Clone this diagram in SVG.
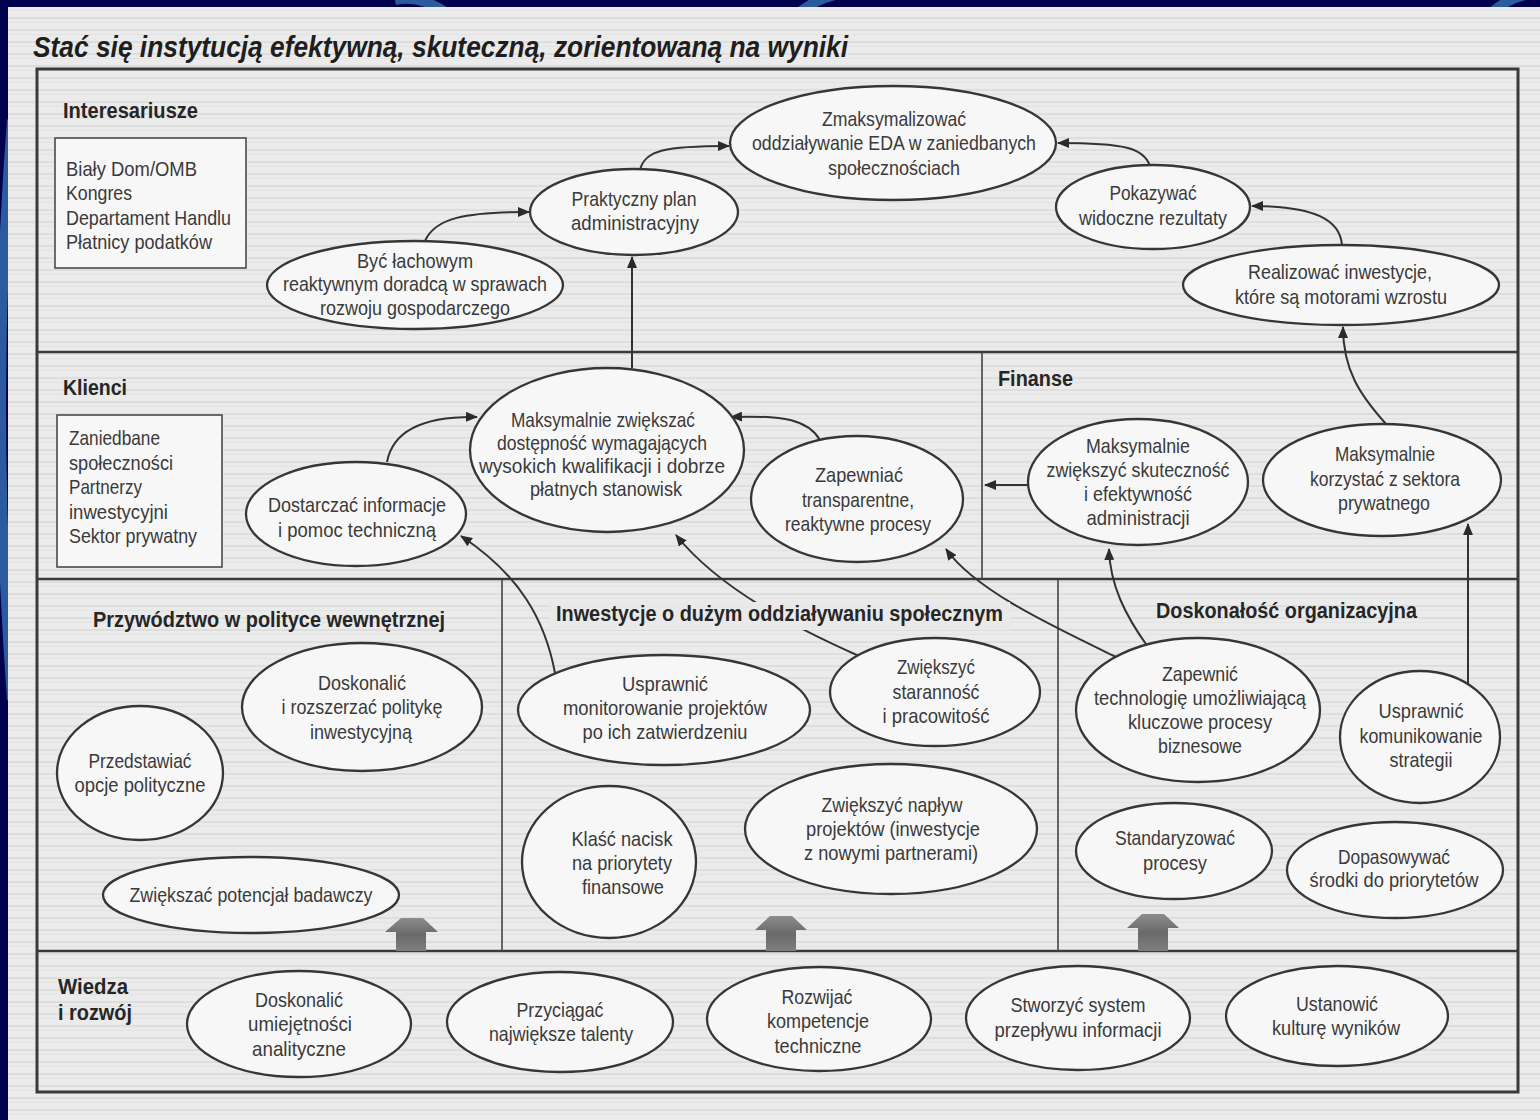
<svg xmlns="http://www.w3.org/2000/svg" width="1540" height="1120" viewBox="0 0 1540 1120">
  <defs>
    <style>
      .t { font-family: "Liberation Sans", Arial, sans-serif; font-size: 21px; fill: #3a3a3a; text-anchor: middle; }
      .tl { font-family: "Liberation Sans", Arial, sans-serif; font-size: 21px; fill: #3a3a3a; }
      .h { font-family: "Liberation Sans", Arial, sans-serif; font-size: 22px; font-weight: bold; fill: #262626; }
      .title { font-family: "Liberation Sans", Arial, sans-serif; font-size: 30px; font-weight: bold; font-style: italic; fill: #1e1e1e; }
      .node ellipse { fill: #f7f7f7; stroke: #363636; stroke-width: 2.3; }
      .box { fill: #f7f7f7; stroke: #4a4a4a; stroke-width: 1.6; }
      .frame { fill: none; stroke: #3a3a3a; stroke-width: 3; }
      .hdiv { stroke: #3a3a3a; stroke-width: 2.6; }
      .vdiv { stroke: #444; stroke-width: 1.6; }
      .knock { fill: #e9e9e9; }
      .conn path { fill: none; stroke: #333; stroke-width: 2; marker-end: url(#ah); }
      .bigarrow { fill: url(#ga); }
    </style>
    <marker id="ah" viewBox="0 0 12 10" refX="11" refY="5" markerWidth="12" markerHeight="10" markerUnits="userSpaceOnUse" orient="auto">
      <path d="M0,0 L12,5 L0,10 Z" fill="#2a2a2a"/>
    </marker>
    <pattern id="scan" width="20" height="12" patternUnits="userSpaceOnUse">
      <rect width="20" height="12" fill="#ebebeb"/>
      <rect y="5" width="20" height="2" fill="#dedede"/>
      <rect y="10" width="20" height="1" fill="#e2e2e2"/>
    </pattern>
    <linearGradient id="ga" x1="0" y1="0" x2="0" y2="1">
      <stop offset="0" stop-color="#8c8c8c"/>
      <stop offset="0.5" stop-color="#6a6a6a"/>
      <stop offset="1" stop-color="#7e7e7e"/>
    </linearGradient>
  </defs>

  <!-- slide background -->
  <rect width="1540" height="1120" fill="#00004c"/>
  <g fill="none" stroke="#2b5b9e" stroke-width="10">
    <path d="M 395 0 Q 420 -5 445 12"/>
    <path d="M 800 12 Q 815 0 835 -5"/>
    <path d="M 1490 14 Q 1505 0 1525 -5"/>
    <path d="M 12 120 Q -10 400 12 700"/>
  </g>

  <!-- scanned page -->
  <rect x="8" y="7" width="1532" height="1113" fill="url(#scan)"/>

  <text class="title" x="33" y="57" textLength="815" lengthAdjust="spacingAndGlyphs">Stać się instytucją efektywną, skuteczną, zorientowaną na wyniki</text>

  <!-- frame and section dividers -->
  <rect class="frame" x="37" y="69" width="1481" height="1023"/>
  <line class="hdiv" x1="37" y1="352" x2="1518" y2="352"/>
  <line class="hdiv" x1="37" y1="579" x2="1518" y2="579"/>
  <line class="hdiv" x1="37" y1="951" x2="1518" y2="951"/>
  <line class="vdiv" x1="982" y1="352" x2="982" y2="579"/>
  <line class="vdiv" x1="502" y1="579" x2="502" y2="951"/>
  <line class="vdiv" x1="1058" y1="579" x2="1058" y2="951"/>

  <!-- connectors -->
  <g id="connectors" class="conn">
    <path d="M 425 241 C 435 218, 465 212, 529 212"/>
    <path d="M 640 170 C 645 150, 665 146, 729 146"/>
    <path d="M 1150 166 C 1144 148, 1125 143, 1058 143"/>
    <path d="M 1342 245 C 1340 220, 1315 206, 1252 206"/>
    <path d="M 632 368 L 632 257"/>
    <path d="M 387 462 C 393 430, 425 416, 477 417"/>
    <path d="M 820 440 C 808 420, 785 415, 731 417"/>
    <path d="M 1028 485 L 985 485"/>
    <path d="M 1386 424 C 1360 395, 1343 370, 1343 327"/>
    <path d="M 555 673 C 545 620, 520 575, 461 536"/>
    <path d="M 859 656 C 800 630, 720 590, 676 535"/>
    <path d="M 1116 657 C 1050 625, 975 590, 946 549"/>
    <path d="M 1148 647 C 1125 615, 1110 585, 1109 549"/>
    <path d="M 1468 686 L 1468 524"/>
  </g>

  <!-- wide arrows from the learning layer -->
  <g id="base-arrows" class="bigarrow">
    <polygon points="401,918 423,918 438,932 426,932 426,951 396,951 396,932 385,932"/>
    <polygon points="770,916 792,916 807,930 796,930 796,951 766,951 766,930 755,930"/>
    <polygon points="1142,914 1164,914 1179,928 1168,928 1168,951 1138,951 1138,928 1127,928"/>
  </g>

  <!-- section headings -->
  <text class="h" x="63" y="118" textLength="135" lengthAdjust="spacingAndGlyphs">Interesariusze</text>
  <text class="h" x="63" y="395" textLength="64" lengthAdjust="spacingAndGlyphs">Klienci</text>
  <text class="h" x="998" y="386" textLength="75" lengthAdjust="spacingAndGlyphs">Finanse</text>
  <text class="h" x="93" y="627" textLength="352" lengthAdjust="spacingAndGlyphs">Przywództwo w polityce wewnętrznej</text>
  <rect class="knock" x="550" y="602" width="460" height="28"/>
  <text class="h" x="556" y="621" textLength="447" lengthAdjust="spacingAndGlyphs">Inwestycje o dużym oddziaływaniu społecznym</text>
  <text class="h" x="1156" y="618" textLength="261" lengthAdjust="spacingAndGlyphs">Doskonałość organizacyjna</text>
  <text class="h" x="58" y="994" textLength="70" lengthAdjust="spacingAndGlyphs">Wiedza</text>
  <text class="h" x="58" y="1020" textLength="74" lengthAdjust="spacingAndGlyphs">i rozwój</text>

  <!-- stakeholder list -->
  <g id="stakeholders">
    <rect class="box" x="55" y="138" width="191" height="130"/>
    <text class="tl" x="66" y="176" textLength="131" lengthAdjust="spacingAndGlyphs">Biały Dom/OMB</text>
    <text class="tl" x="66" y="200" textLength="66" lengthAdjust="spacingAndGlyphs">Kongres</text>
    <text class="tl" x="66" y="225" textLength="165" lengthAdjust="spacingAndGlyphs">Departament Handlu</text>
    <text class="tl" x="66" y="249" textLength="146" lengthAdjust="spacingAndGlyphs">Płatnicy podatków</text>
  </g>

  <!-- client list -->
  <g id="clients">
    <rect class="box" x="57" y="415" width="165" height="152"/>
    <text class="tl" x="69" y="445" textLength="91" lengthAdjust="spacingAndGlyphs">Zaniedbane</text>
    <text class="tl" x="69" y="470" textLength="104" lengthAdjust="spacingAndGlyphs">społeczności</text>
    <text class="tl" x="69" y="494" textLength="73" lengthAdjust="spacingAndGlyphs">Partnerzy</text>
    <text class="tl" x="69" y="519" textLength="99" lengthAdjust="spacingAndGlyphs">inwestycyjni</text>
    <text class="tl" x="69" y="543" textLength="128" lengthAdjust="spacingAndGlyphs">Sektor prywatny</text>
  </g>

  <!-- stakeholder layer -->
  <g id="n-maximize-impact" class="node">
    <ellipse cx="893" cy="143" rx="163" ry="57"/>
    <text class="t" x="894" y="126" textLength="144" lengthAdjust="spacingAndGlyphs">Zmaksymalizować</text>
    <text class="t" x="894" y="150" textLength="284" lengthAdjust="spacingAndGlyphs">oddziaływanie EDA w zaniedbanych</text>
    <text class="t" x="894" y="175" textLength="132" lengthAdjust="spacingAndGlyphs">społecznościach</text>
  </g>
  <g id="n-admin-plan" class="node">
    <ellipse cx="634" cy="212" rx="104" ry="43"/>
    <text class="t" x="634" y="206" textLength="125" lengthAdjust="spacingAndGlyphs">Praktyczny plan</text>
    <text class="t" x="635" y="230" textLength="128" lengthAdjust="spacingAndGlyphs">administracyjny</text>
  </g>
  <g id="n-advisor" class="node">
    <ellipse cx="415" cy="285" rx="148" ry="44"/>
    <text class="t" x="415" y="268" textLength="116" lengthAdjust="spacingAndGlyphs">Być łachowym</text>
    <text class="t" x="415" y="291" textLength="264" lengthAdjust="spacingAndGlyphs">reaktywnym doradcą w sprawach</text>
    <text class="t" x="415" y="315" textLength="190" lengthAdjust="spacingAndGlyphs">rozwoju gospodarczego</text>
  </g>
  <g id="n-show-results" class="node">
    <ellipse cx="1153" cy="207" rx="97" ry="42"/>
    <text class="t" x="1153" y="200" textLength="87" lengthAdjust="spacingAndGlyphs">Pokazywać</text>
    <text class="t" x="1153" y="225" textLength="148" lengthAdjust="spacingAndGlyphs">widoczne rezultaty</text>
  </g>
  <g id="n-growth-investments" class="node">
    <ellipse cx="1341" cy="285" rx="158" ry="40"/>
    <text class="t" x="1340" y="279" textLength="184" lengthAdjust="spacingAndGlyphs">Realizować inwestycje,</text>
    <text class="t" x="1341" y="304" textLength="212" lengthAdjust="spacingAndGlyphs">które są motorami wzrostu</text>
  </g>

  <!-- client layer -->
  <g id="n-tech-assist" class="node">
    <ellipse cx="356" cy="514" rx="110" ry="52"/>
    <text class="t" x="357" y="512" textLength="178" lengthAdjust="spacingAndGlyphs">Dostarczać informacje</text>
    <text class="t" x="357" y="537" textLength="158" lengthAdjust="spacingAndGlyphs">i pomoc techniczną</text>
  </g>
  <g id="n-jobs" class="node">
    <ellipse cx="607" cy="450" rx="137" ry="82"/>
    <text class="t" x="603" y="427" textLength="184" lengthAdjust="spacingAndGlyphs">Maksymalnie zwiększać</text>
    <text class="t" x="602" y="450" textLength="210" lengthAdjust="spacingAndGlyphs">dostępność wymagających</text>
    <text class="t" x="602" y="473" textLength="246" lengthAdjust="spacingAndGlyphs">wysokich kwalifikacji i dobrze</text>
    <text class="t" x="606" y="496" textLength="152" lengthAdjust="spacingAndGlyphs">płatnych stanowisk</text>
  </g>
  <g id="n-processes" class="node">
    <ellipse cx="857" cy="499" rx="106" ry="63"/>
    <text class="t" x="859" y="482" textLength="88" lengthAdjust="spacingAndGlyphs">Zapewniać</text>
    <text class="t" x="858" y="507" textLength="112" lengthAdjust="spacingAndGlyphs">transparentne,</text>
    <text class="t" x="858" y="531" textLength="146" lengthAdjust="spacingAndGlyphs">reaktywne procesy</text>
  </g>

  <!-- finance layer -->
  <g id="n-efficiency" class="node">
    <ellipse cx="1138" cy="482" rx="110" ry="63"/>
    <text class="t" x="1138" y="453" textLength="104" lengthAdjust="spacingAndGlyphs">Maksymalnie</text>
    <text class="t" x="1138" y="477" textLength="183" lengthAdjust="spacingAndGlyphs">zwiększyć skuteczność</text>
    <text class="t" x="1138" y="501" textLength="108" lengthAdjust="spacingAndGlyphs">i efektywność</text>
    <text class="t" x="1138" y="525" textLength="103" lengthAdjust="spacingAndGlyphs">administracji</text>
  </g>
  <g id="n-private-sector" class="node">
    <ellipse cx="1382" cy="480" rx="119" ry="56"/>
    <text class="t" x="1385" y="461" textLength="100" lengthAdjust="spacingAndGlyphs">Maksymalnie</text>
    <text class="t" x="1385" y="486" textLength="150" lengthAdjust="spacingAndGlyphs">korzystać z sektora</text>
    <text class="t" x="1384" y="510" textLength="92" lengthAdjust="spacingAndGlyphs">prywatnego</text>
  </g>

  <!-- internal processes: policy leadership -->
  <g id="n-refine-policy" class="node">
    <ellipse cx="362" cy="707" rx="120" ry="64"/>
    <text class="t" x="362" y="690" textLength="88" lengthAdjust="spacingAndGlyphs">Doskonalić</text>
    <text class="t" x="362" y="714" textLength="161" lengthAdjust="spacingAndGlyphs">i rozszerzać politykę</text>
    <text class="t" x="361" y="739" textLength="102" lengthAdjust="spacingAndGlyphs">inwestycyjną</text>
  </g>
  <g id="n-policy-options" class="node">
    <ellipse cx="140" cy="773" rx="83" ry="67"/>
    <text class="t" x="140" y="768" textLength="103" lengthAdjust="spacingAndGlyphs">Przedstawiać</text>
    <text class="t" x="140" y="792" textLength="131" lengthAdjust="spacingAndGlyphs">opcje polityczne</text>
  </g>
  <g id="n-research" class="node">
    <ellipse cx="251" cy="895" rx="148" ry="38"/>
    <text class="t" x="251" y="902" textLength="243" lengthAdjust="spacingAndGlyphs">Zwiększać potencjał badawczy</text>
  </g>

  <!-- internal processes: high-impact investments -->
  <g id="n-monitoring" class="node">
    <ellipse cx="664" cy="710" rx="146" ry="55"/>
    <text class="t" x="665" y="691" textLength="86" lengthAdjust="spacingAndGlyphs">Usprawnić</text>
    <text class="t" x="665" y="715" textLength="204" lengthAdjust="spacingAndGlyphs">monitorowanie projektów</text>
    <text class="t" x="665" y="739" textLength="165" lengthAdjust="spacingAndGlyphs">po ich zatwierdzeniu</text>
  </g>
  <g id="n-diligence" class="node">
    <ellipse cx="935" cy="692" rx="105" ry="54"/>
    <text class="t" x="936" y="674" textLength="78" lengthAdjust="spacingAndGlyphs">Zwiększyć</text>
    <text class="t" x="936" y="699" textLength="87" lengthAdjust="spacingAndGlyphs">staranność</text>
    <text class="t" x="936" y="723" textLength="107" lengthAdjust="spacingAndGlyphs">i pracowitość</text>
  </g>
  <g id="n-fin-priorities" class="node">
    <ellipse cx="609" cy="862" rx="87" ry="76"/>
    <text class="t" x="622" y="846" textLength="101" lengthAdjust="spacingAndGlyphs">Klaść nacisk</text>
    <text class="t" x="622" y="870" textLength="100" lengthAdjust="spacingAndGlyphs">na priorytety</text>
    <text class="t" x="623" y="894" textLength="82" lengthAdjust="spacingAndGlyphs">finansowe</text>
  </g>
  <g id="n-project-flow" class="node">
    <ellipse cx="891" cy="829" rx="146" ry="65"/>
    <text class="t" x="892" y="812" textLength="141" lengthAdjust="spacingAndGlyphs">Zwiększyć napływ</text>
    <text class="t" x="893" y="836" textLength="174" lengthAdjust="spacingAndGlyphs">projektów (inwestycje</text>
    <text class="t" x="891" y="860" textLength="174" lengthAdjust="spacingAndGlyphs">z nowymi partnerami)</text>
  </g>

  <!-- internal processes: organisational excellence -->
  <g id="n-technology" class="node">
    <ellipse cx="1198" cy="710" rx="122" ry="72"/>
    <text class="t" x="1200" y="681" textLength="76" lengthAdjust="spacingAndGlyphs">Zapewnić</text>
    <text class="t" x="1200" y="705" textLength="212" lengthAdjust="spacingAndGlyphs">technologię umożliwiającą</text>
    <text class="t" x="1200" y="729" textLength="144" lengthAdjust="spacingAndGlyphs">kluczowe procesy</text>
    <text class="t" x="1200" y="753" textLength="84" lengthAdjust="spacingAndGlyphs">biznesowe</text>
  </g>
  <g id="n-communication" class="node">
    <ellipse cx="1420" cy="737" rx="80" ry="66"/>
    <text class="t" x="1421" y="718" textLength="85" lengthAdjust="spacingAndGlyphs">Usprawnić</text>
    <text class="t" x="1421" y="743" textLength="123" lengthAdjust="spacingAndGlyphs">komunikowanie</text>
    <text class="t" x="1421" y="767" textLength="63" lengthAdjust="spacingAndGlyphs">strategii</text>
  </g>
  <g id="n-standardize" class="node">
    <ellipse cx="1174" cy="851" rx="98" ry="48"/>
    <text class="t" x="1175" y="845" textLength="120" lengthAdjust="spacingAndGlyphs">Standaryzować</text>
    <text class="t" x="1175" y="870" textLength="64" lengthAdjust="spacingAndGlyphs">procesy</text>
  </g>
  <g id="n-align-resources" class="node">
    <ellipse cx="1395" cy="870" rx="108" ry="48"/>
    <text class="t" x="1394" y="864" textLength="112" lengthAdjust="spacingAndGlyphs">Dopasowywać</text>
    <text class="t" x="1394" y="887" textLength="169" lengthAdjust="spacingAndGlyphs">środki do priorytetów</text>
  </g>

  <!-- learning and growth -->
  <g id="n-analytics" class="node">
    <ellipse cx="299" cy="1024" rx="112" ry="53"/>
    <text class="t" x="299" y="1007" textLength="88" lengthAdjust="spacingAndGlyphs">Doskonalić</text>
    <text class="t" x="300" y="1031" textLength="104" lengthAdjust="spacingAndGlyphs">umiejętności</text>
    <text class="t" x="299" y="1056" textLength="94" lengthAdjust="spacingAndGlyphs">analityczne</text>
  </g>
  <g id="n-talent" class="node">
    <ellipse cx="560" cy="1022" rx="113" ry="50"/>
    <text class="t" x="560" y="1017" textLength="87" lengthAdjust="spacingAndGlyphs">Przyciągać</text>
    <text class="t" x="561" y="1041" textLength="144" lengthAdjust="spacingAndGlyphs">największe talenty</text>
  </g>
  <g id="n-competence" class="node">
    <ellipse cx="819" cy="1019" rx="112" ry="52"/>
    <text class="t" x="817" y="1004" textLength="71" lengthAdjust="spacingAndGlyphs">Rozwijać</text>
    <text class="t" x="818" y="1028" textLength="102" lengthAdjust="spacingAndGlyphs">kompetencje</text>
    <text class="t" x="818" y="1053" textLength="87" lengthAdjust="spacingAndGlyphs">techniczne</text>
  </g>
  <g id="n-info-flow" class="node">
    <ellipse cx="1078" cy="1018" rx="112" ry="52"/>
    <text class="t" x="1078" y="1012" textLength="135" lengthAdjust="spacingAndGlyphs">Stworzyć system</text>
    <text class="t" x="1078" y="1037" textLength="167" lengthAdjust="spacingAndGlyphs">przepływu informacji</text>
  </g>
  <g id="n-results-culture" class="node">
    <ellipse cx="1337" cy="1016" rx="111" ry="50"/>
    <text class="t" x="1337" y="1011" textLength="82" lengthAdjust="spacingAndGlyphs">Ustanowić</text>
    <text class="t" x="1336" y="1035" textLength="128" lengthAdjust="spacingAndGlyphs">kulturę wyników</text>
  </g>
</svg>
